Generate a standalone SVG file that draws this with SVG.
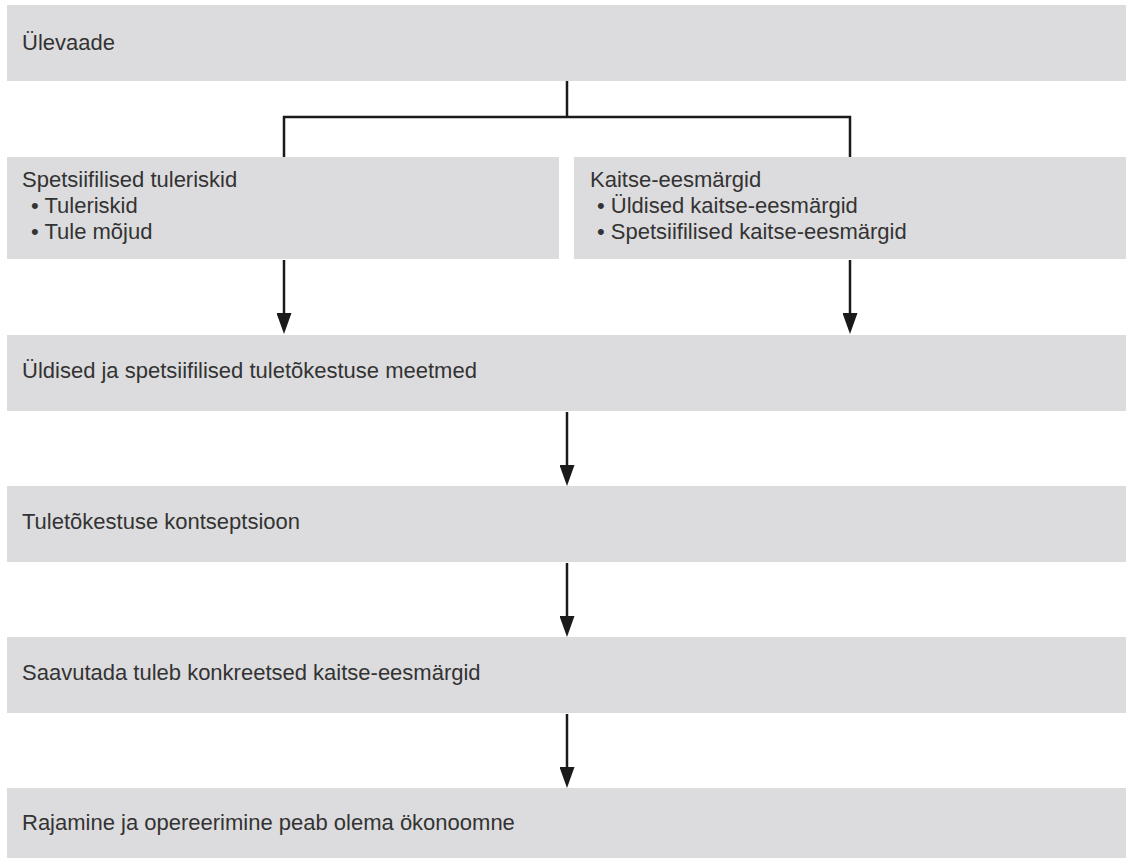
<svg xmlns="http://www.w3.org/2000/svg" width="1130" height="859" viewBox="0 0 1130 859">
  <style>
    .box { fill: #dcdcde; }
    .t { font-family: "Liberation Sans", Arial, sans-serif; font-size: 22px; fill: #333333; }
    .c { stroke: #1a1a1a; stroke-width: 2.5; fill: none; }
  </style>
  <defs>
    <marker id="ah" viewBox="0 0 21 15" refX="2" refY="7.5" markerWidth="21" markerHeight="15" markerUnits="userSpaceOnUse" orient="auto">
      <path d="M0,0 L21,7.5 L0,15 z" fill="#1a1a1a"/>
    </marker>
  </defs>
  <rect width="1130" height="859" fill="#ffffff"/>

  <g id="n1">
    <rect class="box" x="7" y="5" width="1119" height="76"/>
    <text class="t" x="22" y="50">Ülevaade</text>
  </g>
  <g id="n2">
    <rect class="box" x="7" y="157" width="552" height="102"/>
    <text class="t" x="22" y="187">Spetsiifilised tuleriskid</text>
    <text class="t" x="31" y="213">• Tuleriskid</text>
    <text class="t" x="31" y="239">• Tule mõjud</text>
  </g>
  <g id="n3">
    <rect class="box" x="574" y="157" width="552" height="102"/>
    <text class="t" x="590" y="187">Kaitse-eesmärgid</text>
    <text class="t" x="597" y="213">• Üldised kaitse-eesmärgid</text>
    <text class="t" x="597" y="239">• Spetsiifilised kaitse-eesmärgid</text>
  </g>
  <g id="n4">
    <rect class="box" x="7" y="335" width="1119" height="76"/>
    <text class="t" x="22" y="378">Üldised ja spetsiifilised tuletõkestuse meetmed</text>
  </g>
  <g id="n5">
    <rect class="box" x="7" y="486" width="1119" height="76"/>
    <text class="t" x="22" y="529">Tuletõkestuse kontseptsioon</text>
  </g>
  <g id="n6">
    <rect class="box" x="7" y="637" width="1119" height="76"/>
    <text class="t" x="22" y="680">Saavutada tuleb konkreetsed kaitse-eesmärgid</text>
  </g>
  <g id="n7">
    <rect class="box" x="7" y="788" width="1119" height="70"/>
    <text class="t" x="22" y="830">Rajamine ja opereerimine peab olema ökonoomne</text>
  </g>

  <g id="connectors">
    <path class="c" d="M567,81 V117 M284,157 V117 H850 V157"/>
    <line class="c" x1="284" y1="260" x2="284" y2="315" marker-end="url(#ah)"/>
    <line class="c" x1="850" y1="260" x2="850" y2="315" marker-end="url(#ah)"/>
    <line class="c" x1="567" y1="412" x2="567" y2="467" marker-end="url(#ah)"/>
    <line class="c" x1="567" y1="563" x2="567" y2="618" marker-end="url(#ah)"/>
    <line class="c" x1="567" y1="714" x2="567" y2="769" marker-end="url(#ah)"/>
  </g>
</svg>
